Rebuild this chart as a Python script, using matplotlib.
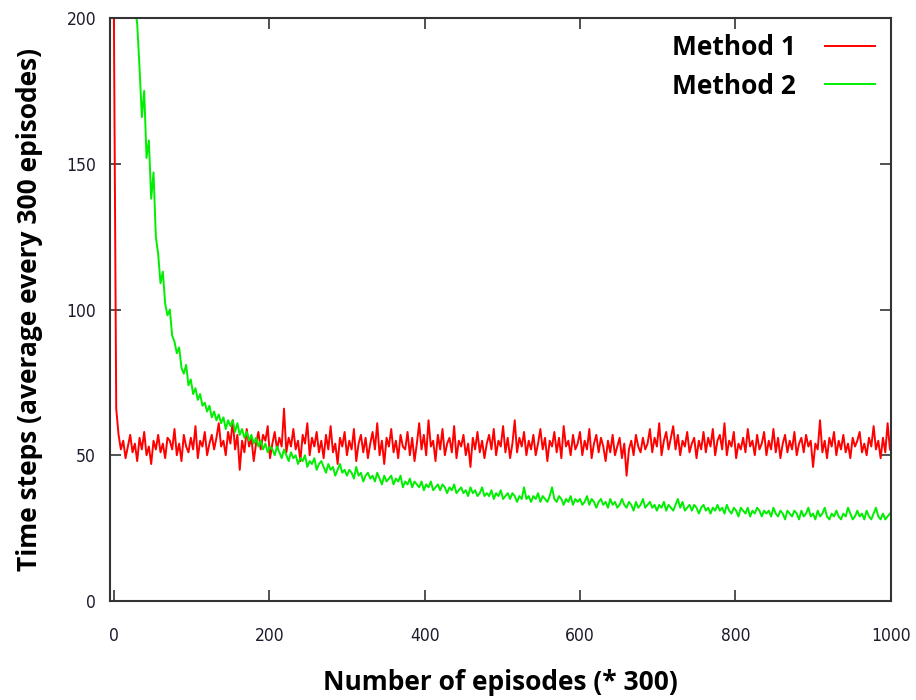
import numpy as np
import matplotlib
matplotlib.use("Agg")
import matplotlib.pyplot as plt

# episodes (* 300), sampled every 3rd point
episodes = np.arange(0, 1000, 3)

method1 = [
    200, 66, 57, 52, 55, 49, 53, 57, 51, 54,
    48, 56, 52, 58, 50, 53, 47, 55, 52, 57,
    51, 54, 49, 56, 55, 52, 59, 50, 54, 48,
    57, 53, 51, 56, 52, 60, 49, 55, 53, 58,
    50, 54, 57, 52, 56, 61, 53, 55, 50, 58,
    54, 62, 52, 57, 45, 55, 51, 59, 53, 56,
    48, 54, 58, 52, 57, 55, 60, 49, 54, 58,
    52, 56, 53, 66, 51, 56, 53, 59, 52, 55,
    48, 57, 54, 61, 50, 56, 53, 58, 51, 55,
    49, 57, 52, 60, 51, 54, 47, 56, 53, 58,
    50, 55, 52, 59, 48, 54, 57, 51, 56, 49,
    54, 58, 52, 61, 50, 55, 47, 56, 53, 59,
    51, 55, 49, 57, 53, 52, 58, 50, 56, 48,
    54, 61, 52, 57, 50, 62, 53, 55, 48, 57,
    52, 59, 50, 54, 56, 51, 60, 49, 55, 53,
    57, 50, 54, 46, 56, 52, 58, 51, 55, 49,
    54, 57, 52, 59, 50, 55, 53, 60, 51, 56,
    49, 54, 62, 51, 56, 53, 58, 50, 55, 52,
    57, 50, 54, 59, 52, 56, 48, 55, 53, 58,
    51, 56, 49, 60, 53, 55, 50, 57, 52, 54,
    58, 50, 55, 52, 59, 49, 54, 57, 51, 56,
    53, 48, 55, 51, 57, 50, 53, 56, 49, 54,
    43, 52, 55, 50, 57, 53, 51, 56, 52, 54,
    59, 51, 56, 53, 61, 50, 55, 58, 52, 56,
    60, 52, 57, 50, 55, 53, 58, 51, 54, 56,
    49, 55, 52, 58, 51, 56, 53, 59, 50, 55,
    57, 52, 61, 50, 55, 53, 58, 49, 54, 52,
    56, 51, 59, 53, 55, 50, 57, 52, 54, 58,
    50, 55, 52, 59, 51, 56, 49, 54, 57, 51,
    55, 52, 58, 50, 54, 56, 51, 57, 53, 55,
    46, 54, 52, 62, 51, 55, 49, 56, 53, 58,
    50, 55, 52, 57, 51, 54, 49, 56, 53, 55,
    58, 51, 54, 50, 56, 53, 60, 52, 55, 49,
    56, 51, 61, 52,
]

method2 = [
    340, 310, 285, 265, 250, 236, 225, 216, 209, 204,
    198, 183, 166, 175, 152, 158, 138, 147, 125, 119,
    109, 113, 102, 98, 100, 91, 89, 85, 87, 80,
    78, 81, 74, 76, 71, 73, 69, 71, 67, 68,
    65, 67, 63, 65, 62, 64, 61, 63, 59, 62,
    60, 62, 58, 61, 57, 59, 56, 58, 55, 57,
    54, 56, 53, 55, 52, 54, 51, 53, 52, 50,
    53, 51, 49, 52, 50, 48, 51, 49, 50, 47,
    49, 48, 50, 46, 48, 47, 49, 45, 47, 48,
    46, 44, 47, 45, 46, 43, 45, 47, 44, 45,
    43, 45, 44, 42, 46, 43, 44, 41, 43, 44,
    42, 43, 41, 44, 42, 40, 43, 41, 42, 43,
    40, 42, 41, 43, 39, 41, 40, 42, 39, 41,
    40, 39, 41, 38, 40, 39, 41, 38, 39, 40,
    38, 40, 39, 37, 39, 38, 40, 37, 38, 39,
    37, 38, 36, 39, 37, 38, 36, 37, 39, 36,
    37, 36, 38, 35, 37, 36, 38, 35, 36, 37,
    35, 37, 36, 34, 36, 35, 39, 35, 36, 34,
    36, 35, 37, 34, 36, 35, 34, 36, 39, 35,
    34, 36, 35, 33, 35, 34, 36, 33, 35, 34,
    35, 33, 34, 36, 33, 35, 34, 32, 34, 35,
    33, 34, 32, 35, 33, 34, 32, 33, 35, 33,
    32, 34, 33, 31, 34, 32, 33, 35, 32, 33,
    34, 32, 33, 31, 33, 32, 34, 31, 33, 32,
    31, 33, 35, 32, 34, 31, 32, 33, 31, 33,
    32, 30, 32, 33, 31, 32, 30, 32, 31, 33,
    31, 32, 30, 33, 31, 30, 32, 31, 29, 32,
    31, 30, 32, 29, 31, 30, 32, 31, 29, 31,
    30, 31, 29, 32, 30, 29, 31, 30, 28, 31,
    30, 29, 31, 30, 28, 31, 29, 30, 32, 29,
    30, 28, 31, 29, 30, 32, 29, 28, 30, 29,
    31, 29, 28, 30, 29, 32, 30, 28, 29, 31,
    29, 30, 28, 31, 29, 28, 30, 32, 29, 28,
    30, 28, 29, 30,
]

series_names = ["Method 1", "Method 2"]
x_ticks = [0, 200, 400, 600, 800, 1000]
y_ticks = [0, 50, 100, 150, 200]

LABEL_FONT = ["Open Sans", "DejaVu Sans"]
TICK_COLOR = "#1c1c2c"

fig = plt.figure(figsize=(9.16, 7.0), dpi=100)
ax = fig.add_axes([0.1201, 0.1414, 0.8523, 0.8329])

ax.plot(episodes, method1, color="#ff0000", lw=1.4, label=series_names[0])
ax.plot(episodes, method2, color="#00ee00", lw=1.4, label=series_names[1])

ax.set_xlim(-5, 1000)
ax.set_ylim(0, 200)
ax.set_xticks(x_ticks)
ax.set_yticks(y_ticks)
ax.tick_params(direction="in", length=8, width=1.2, top=True, right=True,
               labelsize=12.5, colors="#333333", labelcolor=TICK_COLOR, pad=10)
ax.tick_params(axis="x", pad=19)
for lab in ax.get_xticklabels() + ax.get_yticklabels():
    lab.set_fontstretch("condensed")
for s in ax.spines.values():
    s.set_color("#333333")
    s.set_linewidth(1.5)

ax.set_xlabel("Number of episodes (* 300)", family=LABEL_FONT, fontweight="bold",
              fontsize=19, labelpad=17)
ax.set_ylabel("Time steps (average every 300 episodes)", family=LABEL_FONT,
              fontweight="bold", fontsize=19, labelpad=17)

ax.legend(loc="upper right", frameon=False, markerfirst=False, handlelength=1.9,
          handletextpad=1.1, labelspacing=0.45, borderaxespad=0.2,
          prop={"family": LABEL_FONT, "weight": "bold", "size": 19})

fig.savefig("out.png", dpi=100)
